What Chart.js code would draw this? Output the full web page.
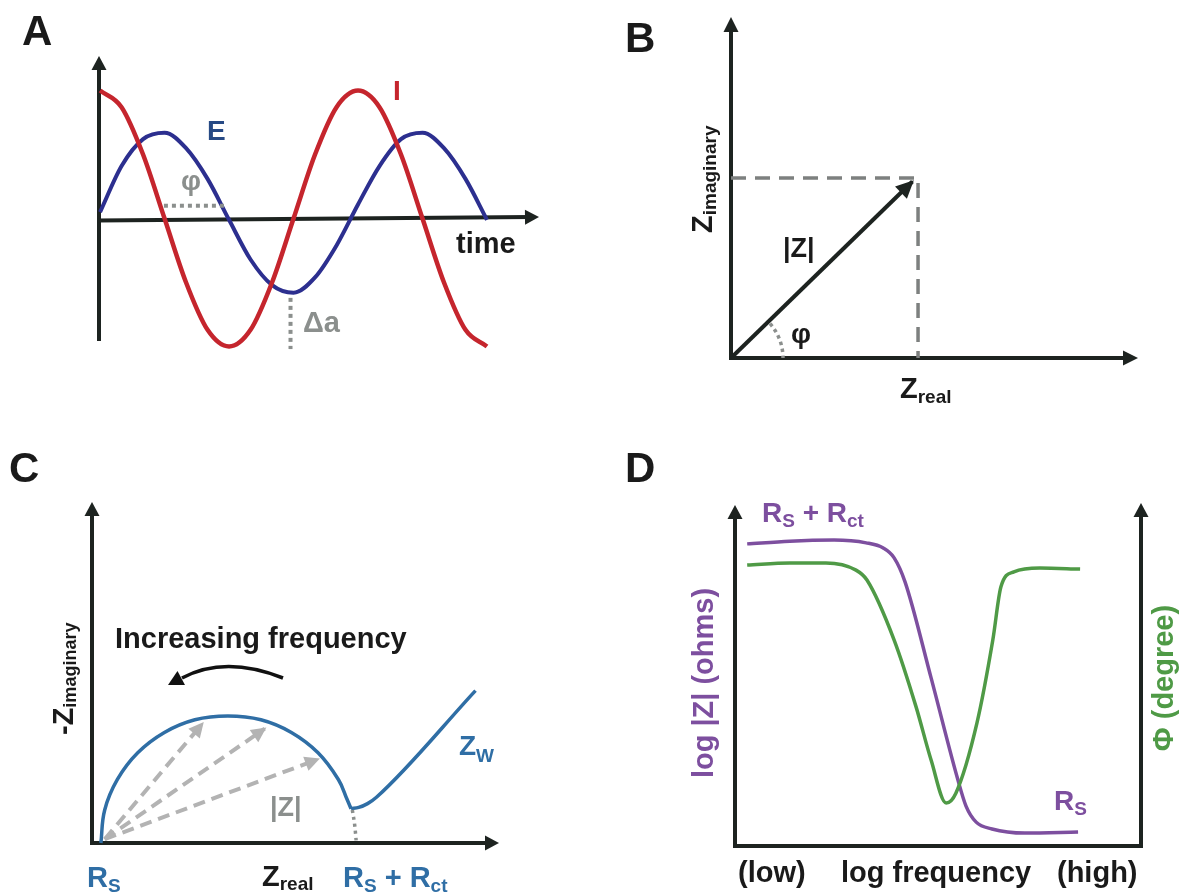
<!DOCTYPE html>
<html>
<head>
<meta charset="utf-8">
<title>Impedance schematic</title>
<script src="https://cdn.jsdelivr.net/npm/chart.js@4.4.1/dist/chart.umd.min.js"></script>
<style>
  html, body { margin: 0; padding: 0; background: #fff; }
  #stage { position: relative; width: 1186px; height: 893px; overflow: hidden; }
  #stage canvas { position: absolute; left: 0; top: 0; }
</style>
</head>
<body>
<div id="stage">
  <canvas id="panelA" width="1186" height="893"></canvas>
  <canvas id="panelB" width="1186" height="893"></canvas>
  <canvas id="panelC" width="1186" height="893"></canvas>
  <canvas id="panelD" width="1186" height="893"></canvas>
</div>
<script>
// ---- A: potential and current vs time (steps of 1/12 period) ----
const timeSteps = [0, 1, 2, 3, 4, 5, 6, 7, 8, 9, 10, 11, 12, 13, 14, 15, 16, 17, 18];
const currentI = [1.00, 0.87, 0.50, 0.00, -0.50, -0.87, -1.00, -0.87, -0.50, 0.00, 0.50, 0.87, 1.00, 0.87, 0.50, 0.00, -0.50, -0.87, -1.00];
const potentialE = [0.05, 0.41, 0.62, 0.67, 0.55, 0.31, -0.01, -0.32, -0.52, -0.58, -0.46, -0.21, 0.11, 0.41, 0.62, 0.67, 0.55, 0.31, -0.01];
const phaseGapT = [2.97, 5.80];
const phaseGapV = [0.10, 0.10];
const amplitudeT = [8.86, 8.86];
const amplitudeV = [-0.62, -1.02];

// ---- B: impedance vector ----
const vectorRe = [0, 0.97];
const vectorIm = [0, 0.98];
const projectionRe = [0, 1, 1];
const projectionIm = [1, 1, 0];

// ---- C: Nyquist plot ----
const arcRe = [0.07, 0.10, 0.20, 0.36, 0.57, 0.81, 1.07, 1.33, 1.57, 1.78, 1.94, 2.01, 2.04];
const arcIm = [0.00, 0.26, 0.50, 0.71, 0.87, 0.97, 1.00, 0.97, 0.87, 0.71, 0.50, 0.34, 0.27];
const warburgRe = [2.04, 2.10, 2.17, 2.24, 3.02];
const warburgIm = [0.27, 0.28, 0.31, 0.36, 1.20];
const arcTailRe = [2.05, 2.07, 2.08];
const arcTailIm = [0.26, 0.13, 0.02];
const magnitudeTips = [[0.87, 0.94], [1.36, 0.90], [1.78, 0.66]];
const magnitudeOrigin = [0.10, 0.03];

// ---- D: Bode plot ----
const logFreq = [0.30, 1.35, 2.44, 3.23, 3.65, 3.92, 4.19, 4.83, 5.49, 5.69, 5.94, 6.33, 7.14, 8.45];
const logZ = [8.86, 8.94, 8.97, 8.89, 8.74, 8.45, 7.74, 4.93, 1.94, 1.17, 0.70, 0.50, 0.38, 0.41];
const phaseFreq = [0.30, 1.35, 2.24, 2.98, 3.25, 3.92, 4.46, 4.83, 5.20, 5.44, 5.96, 6.35, 6.55, 6.87, 7.51, 8.50];
const phaseDeg = [82.4, 83.0, 83.0, 80.9, 78.0, 60.4, 40.8, 25.2, 12.6, 15.5, 36.1, 60.4, 76.0, 80.4, 81.5, 81.2];

const W = 1186, H = 893;
const FONT = '"Liberation Sans", Arial, Helvetica, sans-serif';
const AXIS = '#1d2320';
const GRAY = '#8b8f8d';
const RED = '#c5252d';
const NAVY = '#2c2f8f';
const STEEL = '#2f6ea5';
const PURPLE = '#7d4f9f';
const GREEN = '#4f9a46';

function pts(xs, ys) { return xs.map((x, i) => ({ x, y: ys[i] })); }

function drawLabel(ctx, x, y, parts, color, align) {
    ctx.save();
    ctx.fillStyle = color;
    ctx.textBaseline = 'alphabetic';
    ctx.textAlign = 'left';
    let total = 0;
    parts.forEach((p) => { ctx.font = `bold ${p[1]}px ${FONT}`; total += ctx.measureText(p[0]).width; });
    let cx = align === 'center' ? x - total / 2 : x;
    parts.forEach((p) => {
        ctx.font = `bold ${p[1]}px ${FONT}`;
        ctx.fillText(p[0], cx, y + (p[2] || 0));
        cx += ctx.measureText(p[0]).width;
    });
    ctx.restore();
}

function drawRotated(ctx, x, y, parts, color, align) {
    ctx.save();
    ctx.translate(x, y);
    ctx.rotate(-Math.PI / 2);
    drawLabel(ctx, 0, 0, parts, color, align);
    ctx.restore();
}

function arrowHead(ctx, fx, fy, tx, ty, len, half, color) {
    const a = Math.atan2(ty - fy, tx - fx);
    ctx.save();
    ctx.translate(tx, ty);
    ctx.rotate(a);
    ctx.beginPath();
    ctx.moveTo(0, 0);
    ctx.lineTo(-len, -half);
    ctx.lineTo(-len, half);
    ctx.closePath();
    ctx.fillStyle = color;
    ctx.fill();
    ctx.restore();
}

function axisArrow(ctx, x1, y1, x2, y2, len, half) {
    const d = Math.hypot(x2 - x1, y2 - y1);
    const ex = x2 - (x2 - x1) / d * len * 0.6;
    const ey = y2 - (y2 - y1) / d * len * 0.6;
    ctx.save();
    ctx.strokeStyle = AXIS;
    ctx.lineWidth = 4;
    ctx.lineCap = 'butt';
    ctx.beginPath();
    ctx.moveTo(x1, y1);
    ctx.lineTo(ex, ey);
    ctx.stroke();
    ctx.restore();
    arrowHead(ctx, x1, y1, x2, y2, len, half, AXIS);
}

function plainLine(ctx, x1, y1, x2, y2) {
    ctx.save();
    ctx.strokeStyle = AXIS;
    ctx.lineWidth = 4;
    ctx.lineCap = 'square';
    ctx.beginPath();
    ctx.moveTo(x1, y1);
    ctx.lineTo(x2, y2);
    ctx.stroke();
    ctx.restore();
}

// arrow heads on datasets that ask for one
const datasetArrows = {
    id: 'datasetArrows',
    afterDatasetsDraw(chart) {
        chart.data.datasets.forEach((ds, i) => {
            if (!ds.arrow) return;
            const el = chart.getDatasetMeta(i).data;
            const a = el[el.length - 2], b = el[el.length - 1];
            const d = Math.hypot(b.x - a.x, b.y - a.y);
            const tx = b.x + (b.x - a.x) / d * 2, ty = b.y + (b.y - a.y) / d * 2;
            arrowHead(chart.ctx, a.x, a.y, tx, ty, ds.arrow[0], ds.arrow[1], ds.borderColor);
        });
    }
};

function line(data, color, width, extra) {
    return Object.assign({
        data, showLine: true, borderColor: color, borderWidth: width,
        pointRadius: 0, fill: false, clip: false, cubicInterpolationMode: 'monotone'
    }, extra || {});
}

function makePanel(id, area, scales, datasets, plugin) {
    return new Chart(document.getElementById(id), {
        type: 'scatter',
        data: { datasets },
        options: {
            responsive: false,
            animation: false,
            events: [],
            layout: { padding: { left: area[0], top: area[1], right: W - area[2], bottom: H - area[3] } },
            plugins: { legend: { display: false }, tooltip: { enabled: false } },
            scales
        },
        plugins: [plugin, datasetArrows]
    });
}

// ---------- Panel A ----------
makePanel('panelA', [99, 56, 539, 341], {
    x: { type: 'linear', display: false, min: -0.05, max: 20.42 },
    y: { type: 'linear', display: false, min: -0.957, max: 1.27 }
}, [
    line(pts(phaseGapT, phaseGapV), GRAY, 4, { borderDash: [4, 4], cubicInterpolationMode: 'default', tension: 0 }),
    line(pts(amplitudeT, amplitudeV), GRAY, 4, { borderDash: [4, 4], cubicInterpolationMode: 'default', tension: 0 }),
    line(pts(timeSteps, currentI), RED, 4.5),
    line(pts(timeSteps, potentialE), NAVY, 4)
], {
    id: 'decorA',
    beforeDatasetsDraw(chart) {
        const { ctx, chartArea: ca, scales } = chart;
        const y0 = scales.y.getPixelForValue(0);
        axisArrow(ctx, ca.left, ca.bottom, ca.left, ca.top, 14, 7.5);
        axisArrow(ctx, ca.left - 2, y0 + 2, ca.right, y0 - 1.5, 14, 7.5);
    },
    afterDatasetsDraw(chart) {
        const ctx = chart.ctx;
        drawLabel(ctx, 22, 45, [['A', 42]], '#1a1a1a');
        drawLabel(ctx, 207, 140, [['E', 28]], '#274a85');
        drawLabel(ctx, 393, 100, [['I', 28]], RED);
        drawLabel(ctx, 191, 190, [['φ', 28]], GRAY, 'center');
        drawLabel(ctx, 303, 332, [['Δa', 29]], GRAY);
        drawLabel(ctx, 456, 253, [['time', 29]], '#1a1a1a');
    }
});

// ---------- Panel B ----------
makePanel('panelB', [731, 17, 1138, 358], {
    x: { type: 'linear', display: false, min: 0, max: 2.176 },
    y: { type: 'linear', display: false, min: 0, max: 1.894 }
}, [
    line(pts(projectionRe, projectionIm), '#7d807f', 3.5, { borderDash: [15, 9], cubicInterpolationMode: 'default', tension: 0 }),
    line(pts(vectorRe, vectorIm), AXIS, 4, { arrow: [18, 8.5], cubicInterpolationMode: 'default', tension: 0 })
], {
    id: 'decorB',
    beforeDatasetsDraw(chart) {
        const { ctx, chartArea: ca } = chart;
        axisArrow(ctx, ca.left, ca.bottom + 2, ca.left, ca.top, 15, 7.5);
        axisArrow(ctx, ca.left - 2, ca.bottom, ca.right, ca.bottom, 15, 7.5);
    },
    afterDatasetsDraw(chart) {
        const { ctx, scales } = chart;
        const ox = scales.x.getPixelForValue(0), oy = scales.y.getPixelForValue(0);
        const ang = Math.atan2(vectorIm[1] * 180, vectorRe[1] * 187);
        ctx.save();
        ctx.strokeStyle = GRAY;
        ctx.lineWidth = 3.5;
        ctx.setLineDash([3.5, 3.5]);
        ctx.beginPath();
        ctx.arc(ox, oy, 52, -ang + 0.05, 0);
        ctx.stroke();
        ctx.restore();
        drawLabel(ctx, 625, 52, [['B', 42]], '#1a1a1a');
        drawLabel(ctx, 783, 257, [['|Z|', 27]], '#1a1a1a');
        drawLabel(ctx, 801, 343, [['φ', 28]], '#1a1a1a', 'center');
        drawLabel(ctx, 900, 398, [['Z', 29], ['real', 19, 5]], '#1a1a1a');
        drawRotated(ctx, 712, 233, [['Z', 29], ['imaginary', 19, 4]], '#1a1a1a');
    }
});

// ---------- Panel C ----------
const magnitudeSets = magnitudeTips.map((t) => line(
    pts([magnitudeOrigin[0], t[0]], [magnitudeOrigin[1], t[1]]), '#b3b3b3', 4,
    { borderDash: [12, 7], arrow: [15, 7.5], cubicInterpolationMode: 'default', tension: 0 }
));
makePanel('panelC', [92, 502, 499, 843], {
    x: { type: 'linear', display: false, min: 0, max: 3.205 },
    y: { type: 'linear', display: false, min: 0, max: 2.685 }
}, [
    ...magnitudeSets,
    line(pts(arcTailRe, arcTailIm), GRAY, 3.5, { borderDash: [3, 4] }),
    line(pts(arcRe, arcIm), STEEL, 3.5, { cubicInterpolationMode: 'default', tension: 0.4 }),
    line(pts(warburgRe, warburgIm), STEEL, 3.5)
], {
    id: 'decorC',
    beforeDatasetsDraw(chart) {
        const { ctx, chartArea: ca } = chart;
        axisArrow(ctx, ca.left, ca.bottom + 2, ca.left, ca.top, 14, 7.5);
        axisArrow(ctx, ca.left - 2, ca.bottom, ca.right, ca.bottom, 14, 7.5);
    },
    afterDatasetsDraw(chart) {
        const ctx = chart.ctx;
        // curved "increasing frequency" arrow
        ctx.save();
        ctx.strokeStyle = '#111';
        ctx.lineWidth = 3.5;
        ctx.beginPath();
        ctx.moveTo(283, 678);
        ctx.quadraticCurveTo(225, 655, 182, 678);
        ctx.stroke();
        ctx.restore();
        arrowHead(ctx, 200, 668, 168, 685, 15, 8, '#111');

        drawLabel(ctx, 9, 482, [['C', 42]], '#1a1a1a');
        drawLabel(ctx, 115, 648, [['Increasing frequency', 29]], '#1a1a1a');
        drawLabel(ctx, 270, 816, [['|Z|', 27]], GRAY);
        drawLabel(ctx, 459, 755, [['Z', 28], ['W', 19, 7]], STEEL);
        drawLabel(ctx, 87, 887, [['R', 29], ['S', 19, 5]], STEEL);
        drawLabel(ctx, 262, 886, [['Z', 29], ['real', 19, 4]], '#1a1a1a');
        drawLabel(ctx, 343, 887, [['R', 29], ['S', 19, 5], [' + R', 29], ['ct', 19, 5]], STEEL);
        drawRotated(ctx, 73, 735, [['-Z', 29], ['imaginary', 18, 3]], '#1a1a1a');
    }
});

// ---------- Panel D ----------
makePanel('panelD', [735, 505, 1141, 846], {
    x: { type: 'linear', display: false, min: 0, max: 10 },
    y: { type: 'linear', display: false, min: 0, max: 10 },
    y2: { type: 'linear', display: false, min: 0, max: 100, position: 'right' }
}, [
    line(pts(phaseFreq, phaseDeg), GREEN, 3.5, { yAxisID: 'y2' }),
    line(pts(logFreq, logZ), PURPLE, 3.5, { yAxisID: 'y' })
], {
    id: 'decorD',
    beforeDatasetsDraw(chart) {
        const { ctx, chartArea: ca } = chart;
        axisArrow(ctx, ca.left, ca.bottom + 2, ca.left, ca.top, 14, 7.5);
        axisArrow(ctx, ca.right, ca.bottom + 2, ca.right, ca.top - 2, 14, 7.5);
        plainLine(ctx, ca.left, ca.bottom, ca.right, ca.bottom);
    },
    afterDatasetsDraw(chart) {
        const ctx = chart.ctx;
        drawLabel(ctx, 625, 482, [['D', 42]], '#1a1a1a');
        drawLabel(ctx, 762, 522, [['R', 28], ['S', 19, 5], [' + R', 28], ['ct', 19, 5]], PURPLE);
        drawLabel(ctx, 1054, 810, [['R', 28], ['S', 19, 5]], PURPLE);
        drawRotated(ctx, 713, 683, [['log |Z| (ohms)', 29]], PURPLE, 'center');
        drawRotated(ctx, 1173, 678, [['Φ (degree)', 29]], GREEN, 'center');
        drawLabel(ctx, 738, 882, [['(low)', 29]], '#1a1a1a');
        drawLabel(ctx, 841, 882, [['log frequency', 29]], '#1a1a1a');
        drawLabel(ctx, 1057, 882, [['(high)', 29]], '#1a1a1a');
    }
});
</script>
</body>
</html>
